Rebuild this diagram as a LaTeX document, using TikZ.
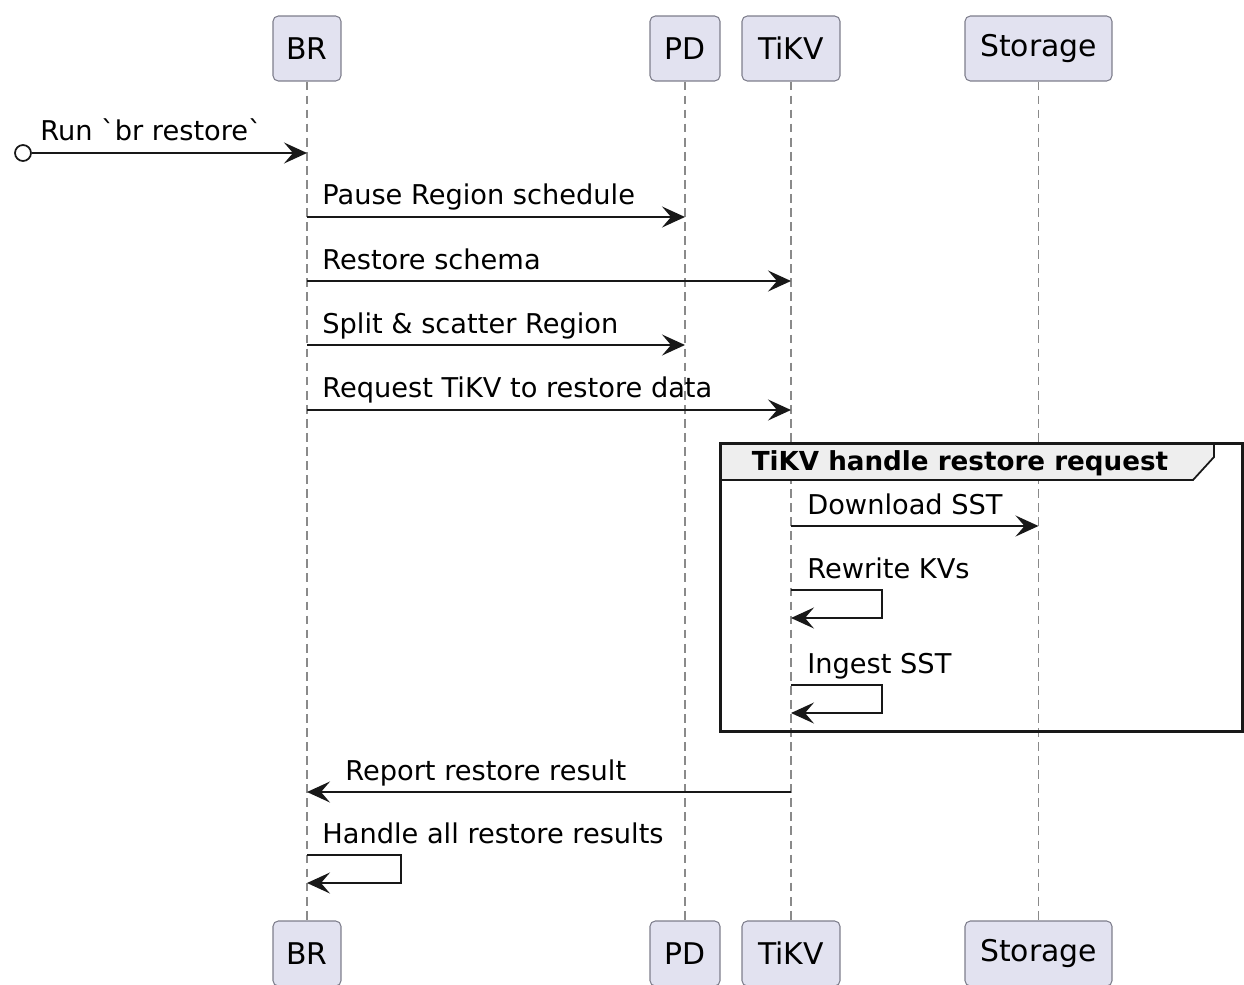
\documentclass[tikz,border=0pt]{standalone}
\usepackage{fontspec}
\setmainfont{DejaVu Sans}
\usetikzlibrary{arrows.meta,positioning}
\definecolor{partfill}{HTML}{E2E2F0}
\definecolor{partdraw}{HTML}{7E7E8C}
\definecolor{lifegray}{HTML}{8A8A8A}
\definecolor{msgline}{HTML}{181818}
\definecolor{grouphead}{HTML}{EEEEEE}
\tikzset
{
    actor/.style = {rectangle, rounded corners=3pt, draw=partdraw, fill=partfill, line width=0.6pt, minimum height=1.3cm, align=center, font=\fontsize{17}{19}\selectfont},
    lifeline/.style = {draw=lifegray, dash pattern=on 5pt off 3pt, line width=0.6pt},
    message/.style = {draw=msgline, line width=0.9pt, -{Stealth[length=4.6mm,width=4.2mm,inset=1.8mm]}},
    msglabel/.style = {anchor=base west, inner sep=0pt, font=\fontsize{15.5}{17}\selectfont},
    grouptitle/.style = {inner sep=0pt, font=\fontsize{14.9}{17}\selectfont\bfseries}
}
\begin{document}
\begin{tikzpicture}[x=0.02cm, y=-0.02cm]
	\useasboundingbox (0,0) rectangle (1244,984);
	% participants, top and bottom
	\node[actor, minimum width=1.36cm] (br) at (307,48.5) {BR};
	\node[actor, minimum width=1.40cm] (pd) at (685,48.5) {PD};
	\node[actor, minimum width=1.96cm] (tikv) at (791,48.5) {TiKV};
	\node[actor, minimum width=2.94cm] (storage) at (1038.5,48.5) {Storage};
	\node[actor, minimum width=1.36cm] (brb) at (307,953.5) {BR};
	\node[actor, minimum width=1.40cm] (pdb) at (685,953.5) {PD};
	\node[actor, minimum width=1.96cm] (tikvb) at (791,953.5) {TiKV};
	\node[actor, minimum width=2.94cm] (storageb) at (1038.5,953.5) {Storage};
	% lifelines
	\draw[lifeline] (br) -- (brb);
	\draw[lifeline] (pd) -- (pdb);
	\draw[lifeline] (tikv) -- (tikvb);
	\draw[lifeline] (storage) -- (storageb);
	% group frame
	\draw[draw=msgline, line width=1pt, fill=grouphead] (720,443) -- (1214,443) -- (1214,457) -- (1193,480) -- (720,480) -- cycle;
	\draw[draw=msgline, line width=1.7pt] (720,443) rectangle (1242,731);
	\node[grouptitle] (grp) at (960,463) {TiKV handle restore request};
	% messages
	\node[circle, draw=msgline, line width=1pt, fill=white, minimum size=0.32cm, inner sep=0pt] (start) at (23,153) {};
	\draw[message] (start) -- (br |- start);
	\node[msglabel] (l1) at (40,140) {Run \textasciigrave br restore\textasciigrave};
	\draw[message] (br |- 0,217) -- (pd |- 0,217);
	\node[msglabel] (l2) at (322,204) {Pause Region schedule};
	\draw[message] (br |- 0,281) -- (tikv |- 0,281);
	\node[msglabel] (l3) at (322,269) {Restore schema};
	\draw[message] (br |- 0,345) -- (pd |- 0,345);
	\node[msglabel] (l4) at (322,333) {Split \& scatter Region};
	\draw[message] (br |- 0,410) -- (tikv |- 0,410);
	\node[msglabel] (l5) at (322,397) {Request TiKV to restore data};
	\draw[message] (tikv |- 0,526) -- (storage |- 0,526);
	\node[msglabel] (l6) at (807,514) {Download SST};
	\draw[message] (tikv |- 0,590) -- ++(91,0) -- ++(0,28) -- (tikv |- 0,618);
	\node[msglabel] (l7) at (807,578) {Rewrite KVs};
	\draw[message] (tikv |- 0,685) -- ++(91,0) -- ++(0,28) -- (tikv |- 0,713);
	\node[msglabel] (l8) at (807,673) {Ingest SST};
	\draw[message] (tikv |- 0,792) -- (br |- 0,792);
	\node[msglabel] (l9) at (345,780) {Report restore result};
	\draw[message] (br |- 0,855) -- ++(94,0) -- ++(0,28) -- (br |- 0,883);
	\node[msglabel] (l10) at (322,843) {Handle all restore results};
\end{tikzpicture}
\end{document}
